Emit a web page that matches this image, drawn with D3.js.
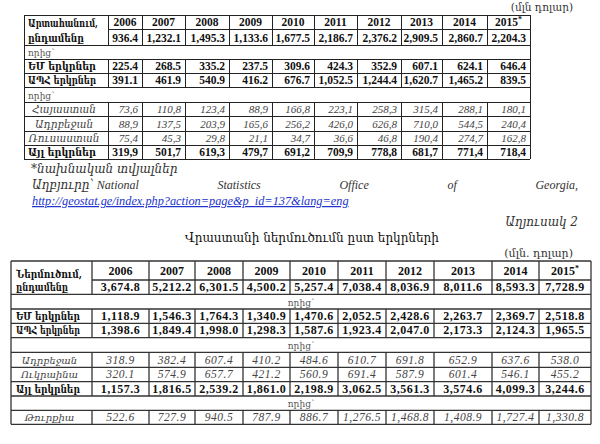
<!DOCTYPE html>
<html lang="hy">
<head>
<meta charset="UTF-8">
<title>Georgia trade by country</title>
<script src="https://d3js.org/d3.v7.min.js"></script>
<style>
  body{margin:0;background:#fff;}
  svg text{font-family:"Liberation Serif","DejaVu Serif",serif;fill:#111;}
  .hy{font-family:"DejaVu Serif","DejaVu Sans","Liberation Serif",serif;}
  .grid{stroke:#222;stroke-width:1;fill:none;shape-rendering:crispEdges;}
  .grid2{stroke:#333;stroke-width:1.3;fill:none;}
  .b{font-weight:bold;}
  .it{font-style:italic;fill:#444;}
  .note{font-style:italic;fill:#333;font-size:12px;}
  .link{font-style:italic;fill:#2233cc;font-size:12.3px;text-decoration:underline;}
</style>
</head>
<body>
<script>
// years (tick labels of both tables), the last one is preliminary
var years = ["2006","2007","2008","2009","2010","2011","2012","2013","2014","2015"];

// table 1: export, mln USD
var exportTotal = [936.4,1232.1,1495.3,1133.6,1677.5,2186.7,2376.2,2909.5,2860.7,2204.3];
var exportEU = [225.4,268.5,335.2,237.5,309.6,424.3,352.9,607.1,624.1,646.4];
var exportCIS = [391.1,461.9,540.9,416.2,676.7,1052.5,1244.4,1620.7,1465.2,839.5];
var exportArmenia = [73.6,110.8,123.4,88.9,166.8,223.1,258.3,315.4,288.1,180.1];
var exportAzerbaijan = [88.9,137.5,203.9,165.6,256.2,426.0,626.8,710.0,544.5,240.4];
var exportRussia = [75.4,45.3,29.8,21.1,34.7,36.6,46.8,190.4,274.7,162.8];
var exportOther = [319.9,501.7,619.3,479.7,691.2,709.9,778.8,681.7,771.4,718.4];

// table 2: import, mln USD
var importTotal = [3674.8,5212.2,6301.5,4500.2,5257.4,7038.4,8036.9,8011.6,8593.3,7728.9];
var importEU = [1118.9,1546.3,1764.3,1340.9,1470.6,2052.5,2428.6,2263.7,2369.7,2518.8];
var importCIS = [1398.6,1849.4,1998.0,1298.3,1587.6,1923.4,2047.0,2173.3,2124.3,1965.5];
var importAzerbaijan = [318.9,382.4,607.4,410.2,484.6,610.7,691.8,652.9,637.6,538.0];
var importUkraine = [320.1,574.9,657.7,421.2,560.9,691.4,587.9,601.4,546.1,455.2];
var importOther = [1157.3,1816.5,2539.2,1861.0,2198.9,3062.5,3561.3,3574.6,4099.3,3244.6];
var importTurkey = [522.6,727.9,940.5,787.9,886.7,1276.5,1468.8,1408.9,1727.4,1330.8];

var dot = d3.format(",.1f");
var comma = d3.formatLocale({decimal:",", thousands:" ", grouping:[3], currency:["",""]}).format(".1f");

var exportRows = [
  {type:"head"},
  {type:"total", values:exportTotal, fmt:dot},
  {type:"sep", label:"որից՝"},
  {type:"bold", label:"ԵՄ երկրներ", values:exportEU, fmt:dot},
  {type:"bold", label:"ԱՊՀ երկրներ", values:exportCIS, fmt:dot},
  {type:"sep", label:"որից՝"},
  {type:"it", label:"Հայաստան", values:exportArmenia, fmt:comma},
  {type:"it", label:"Ադրբեջան", values:exportAzerbaijan, fmt:comma},
  {type:"it", label:"Ռուսաստան", values:exportRussia, fmt:comma},
  {type:"bold", label:"Այլ երկրներ", values:exportOther, fmt:comma}
];
var importRows = [
  {type:"head"},
  {type:"total", values:importTotal, fmt:dot},
  {type:"sep", label:"որից՝"},
  {type:"bold", label:"ԵՄ երկրներ", values:importEU, fmt:dot},
  {type:"bold", label:"ԱՊՀ երկրներ", values:importCIS, fmt:dot},
  {type:"sep", label:"որից՝"},
  {type:"it", label:"Ադրբեջան", values:importAzerbaijan, fmt:dot},
  {type:"it", label:"Ուկրաինա", values:importUkraine, fmt:dot},
  {type:"bold", label:"Այլ երկրներ", values:importOther, fmt:dot},
  {type:"sep", label:"որից՝"},
  {type:"it", label:"Թուրքիա", values:importTurkey, fmt:dot}
];

var svg = d3.select("body").append("svg").attr("width",600).attr("height",444);

// bold label, narrowed horizontally when wider than its cell allows
function label(g, txt, x, y, size, maxW) {
  var t = g.append("text").attr("class","hy b").style("font-size",size+"px").text(txt);
  var w = t.node().getComputedTextLength();
  var sx = Math.min(1, maxW / w);
  t.attr("transform","translate(" + x + "," + y + ") scale(" + sx + ",1)");
  return t;
}

function drawTable(cfg, rows) {
  var g = svg.append("g");
  var left = d3.scaleOrdinal(years, cfg.cols.slice(0,-1));
  var right = d3.scaleOrdinal(years, cfg.cols.slice(1));
  var x0 = cfg.x0, x1 = cfg.cols[cfg.cols.length-1];
  var ry = cfg.rowsY;

  // horizontal rules
  ry.forEach(function(y,i){
    g.append("line").attr("class",cfg.line)
      .attr("x1", i==1 ? cfg.cols[0] : x0).attr("x2", x1)
      .attr("y1", y).attr("y2", y);
  });
  g.append("line").attr("class",cfg.line).attr("x1",x0).attr("x2",x0).attr("y1",ry[0]).attr("y2",ry[ry.length-1]);
  g.append("line").attr("class",cfg.line).attr("x1",x1).attr("x2",x1).attr("y1",ry[0]).attr("y2",ry[ry.length-1]);

  // vertical rules, skipped inside separator rows
  rows.forEach(function(r,i){
    if (r.type=="sep") return;
    g.selectAll(null).data(cfg.cols.slice(0,-1)).enter().append("line")
      .attr("class",cfg.line)
      .attr("x1",function(d){return d;}).attr("x2",function(d){return d;})
      .attr("y1",ry[i]).attr("y2",ry[i+1]);
  });

  // spanning label of the first two rows
  label(g, cfg.title[0], x0+cfg.pad, ry[1]-2.5, cfg.labelSize, cfg.maxW);
  label(g, cfg.title[1], x0+cfg.pad, ry[2]-3.5, cfg.labelSize, cfg.maxW-14);

  // year header
  var yt = g.selectAll(null).data(years).enter().append("text")
    .attr("class","b").attr("text-anchor","middle")
    .attr("x",function(d){return (left(d)+right(d))/2;})
    .attr("y",ry[1]-cfg.headBase)
    .style("font-size",cfg.numSize+"px")
    .text(function(d){return d;});
  yt.filter(function(d,i){return i==years.length-1;}).append("tspan")
    .attr("dy",-4).style("font-size","8px").text("*");

  rows.forEach(function(r,i){
    if (i==0) return;
    var base = ry[i+1]-cfg.base;
    if (r.type=="sep") {
      g.append("text").attr("class","hy")
        .attr("x", cfg.sepCenter ? (x0+x1)/2 : x0+4)
        .attr("text-anchor", cfg.sepCenter ? "middle" : "start")
        .attr("y",base).style("font-size","9px").style("fill","#555").text(r.label);
      return;
    }
    if (r.label) {
      if (r.type=="it") {
        g.append("text").attr("class","hy it")
          .attr("x",(x0+cfg.cols[0])/2 - cfg.itShift).attr("text-anchor","middle")
          .attr("y",base).style("font-size",cfg.itLabel+"px").text(r.label);
      } else {
        label(g, r.label, x0+cfg.pad, base, cfg.labelSize, cfg.maxW-2);
      }
    }
    g.selectAll(null).data(r.values).enter().append("text")
      .attr("class", r.type=="it" ? "it" : "b")
      .attr("text-anchor", cfg.center ? "middle" : "end")
      .attr("x",function(d,j){
        var yr = years[j];
        return cfg.center ? (left(yr)+right(yr))/2 : right(yr)-4;
      })
      .attr("y",base)
      .style("font-size",(r.type=="it" ? cfg.itSize : cfg.numSize)+"px")
      .style("letter-spacing",cfg.spacing+"px")
      .text(function(d){return r.fmt(d);});
  });
}

// units, top right
svg.append("text").attr("class","hy").attr("x",573).attr("y",11)
  .attr("text-anchor","end").style("font-size","10.5px").style("fill","#333").text("(մլն դոլար)");

drawTable({
  x0:24, cols:[108,142,185,229,272,314,357,401,442,487,530],
  rowsY:[15,29.3,45,59.3,73.5,87.7,102.7,116.7,131,145,159.3],
  title:["Արտահանում,","ընդամենը"], pad:4, labelSize:11, itLabel:10.5, maxW:70,
  numSize:11.5, itSize:11, spacing:0, headBase:3, base:3.5,
  center:false, sepCenter:false, itShift:2, line:"grid"
}, exportRows);

// notes under table 1
svg.append("text").attr("class","hy note").attr("x",31).attr("y",173).text("*նախնական տվյալներ");

var srcWords = ["Աղբյուրը՝ National","Statistics","Office","of","Georgia,"];
var srcText = svg.selectAll(null).data(srcWords).enter().append("text")
  .attr("class","note").attr("y",189).text(function(d){return d;});
var widths = srcText.nodes().map(function(n){return n.getComputedTextLength();});
var gap = (578 - 32 - d3.sum(widths)) / (srcWords.length-1);
var cx = 32;
srcText.attr("x",function(d,i){var x = cx; cx += widths[i] + gap; return x;});

svg.append("text").attr("class","link").attr("x",32).attr("y",205)
  .text("http://geostat.ge/index.php?action=page&p_id=137&lang=eng");

svg.append("text").attr("class","hy note").attr("x",578).attr("y",226)
  .attr("text-anchor","end").text("Աղյուսակ 2");
svg.append("text").attr("class","hy").attr("x",312).attr("y",242)
  .attr("text-anchor","middle").style("font-size","12px").text("Վրաստանի ներմուծումն ըստ երկրների");
svg.append("text").attr("class","hy").attr("x",573).attr("y",257)
  .attr("text-anchor","end").style("font-size","11px").style("fill","#333").text("(մլն. դոլար)");

drawTable({
  x0:11, cols:[92,149,195,243,290,338,386,434,492,539,591],
  rowsY:[261,280,294.3,309,323.3,337.7,352.3,367.3,381.7,396,410.3,424.3],
  title:["Ներմուծում,","ընդամենը"], pad:5, labelSize:11, itLabel:10, maxW:66,
  numSize:12, itSize:11.5, spacing:0.5, headBase:5, base:3.3,
  center:true, sepCenter:true, itShift:2, line:"grid2"
}, importRows);
</script>
</body>
</html>
